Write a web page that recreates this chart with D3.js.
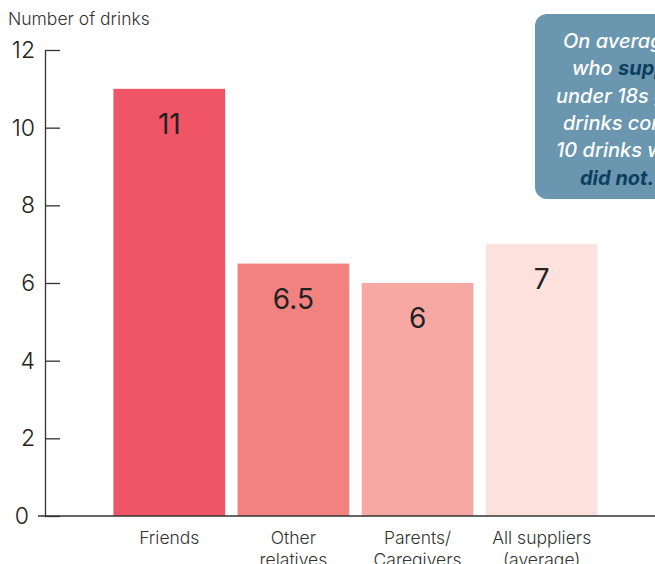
<!DOCTYPE html>
<html>
<head>
<meta charset="utf-8">
<script src="https://cdn.jsdelivr.net/npm/d3@7"></script>
<style>
  body { margin: 0; background: #fff; }
  svg { display: block; font-family: Inter, "Noto Sans", sans-serif; }
</style>
</head>
<body>
<svg id="chart" width="655" height="564"></svg>
<script>
var categories = ["Friends", "Other relatives", "Parents/ Caregivers", "All suppliers (average)"];
var catLines = [["Friends"], ["Other", "relatives"], ["Parents/", "Caregivers"], ["All suppliers", "(average)"]];
var drinks = [11, 6.5, 6, 7];
var barColors = ["#f05565", "#f2827f", "#f7a8a3", "#fde1dc"];
var yTicks = [0, 2, 4, 6, 8, 10, 12];

// callout text, one array per line; b = dark bold part
var noteLines = [
  [{t: "On average, people"}],
  [{t: "who "}, {t: "supplied", b: true}],
  [{t: "under 18s gave more"}],
  [{t: "drinks compared to"}],
  [{t: "10 drinks when they"}],
  [{t: "did not.", b: true}]
];
var noteStarts = [563, 572, 556, 563, 556, 580];

var svg = d3.select("#chart");
var W = 655, H = 564;

var y = d3.scaleLinear().domain([0, 12]).range([516, 50]);
var x = d3.scaleBand().domain(categories).range([101, 610])
  .paddingInner(0.1).paddingOuter(0.1);

// axis title
svg.append("text")
  .attr("x", 8).attr("y", 25)
  .attr("font-size", 17.5).attr("font-weight", 300)
  .attr("fill", "#333")
  .text("Number of drinks");

// bars
svg.append("g").selectAll("rect")
  .data(drinks)
  .enter().append("rect")
  .attr("x", function(d, i) { return x(categories[i]); })
  .attr("y", function(d) { return y(d); })
  .attr("width", x.bandwidth())
  .attr("height", function(d) { return y(0) - y(d); })
  .attr("fill", function(d, i) { return barColors[i]; });

// value labels
svg.append("g").selectAll("text")
  .data(drinks)
  .enter().append("text")
  .attr("x", function(d, i) { return x(categories[i]) + x.bandwidth() / 2; })
  .attr("y", function(d) { return y(d) + 45; })
  .attr("text-anchor", "middle")
  .attr("font-size", 28)
  .attr("fill", "#222")
  .text(function(d) { return d; });

// y axis
var yAxis = svg.append("g")
  .attr("transform", "translate(45,0)")
  .call(d3.axisLeft(y).tickValues(yTicks)
    .tickSizeInner(-15).tickSizeOuter(0).tickPadding(10));
yAxis.select(".domain").attr("stroke", "#333").attr("stroke-width", 1.3);
yAxis.selectAll(".tick line").attr("stroke", "#333").attr("stroke-width", 1.3);
yAxis.selectAll(".tick text")
  .attr("font-family", "Inter, 'Noto Sans', sans-serif")
  .attr("font-size", 23).attr("font-weight", 300).attr("fill", "#222")
  .attr("dx", function(d) { return d === 0 ? -6 : 0; });

// baseline
svg.append("line")
  .attr("x1", 38).attr("x2", W)
  .attr("y1", y(0)).attr("y2", y(0))
  .attr("stroke", "#333").attr("stroke-width", 1.3);

// category labels
var cat = svg.append("g").selectAll("text")
  .data(catLines)
  .enter().append("text")
  .attr("text-anchor", "middle")
  .attr("font-size", 17.5).attr("font-weight", 300)
  .attr("fill", "#333");
cat.each(function(lines, i) {
  var t = d3.select(this);
  lines.forEach(function(s, j) {
    t.append("tspan")
      .attr("x", x(categories[i]) + x.bandwidth() / 2)
      .attr("y", 544 + j * 22)
      .text(s);
  });
});

// callout box
svg.append("rect")
  .attr("x", 535).attr("y", 14)
  .attr("width", 240).attr("height", 185)
  .attr("rx", 12)
  .attr("fill", "#6a96b0");

var note = svg.append("g").selectAll("text")
  .data(noteLines)
  .enter().append("text")
  .attr("x", function(d, i) { return noteStarts[i]; })
  .attr("y", function(d, i) { return 48 + i * 27.3; })
  .attr("font-size", 20).attr("font-style", "italic").attr("font-weight", 500)
  .attr("fill", "#fff");
note.each(function(parts) {
  var t = d3.select(this);
  parts.forEach(function(p) {
    t.append("tspan")
      .attr("font-weight", p.b ? 700 : null)
      .attr("fill", p.b ? "#0b3f5e" : null)
      .text(p.t);
  });
});
</script>
</body>
</html>
